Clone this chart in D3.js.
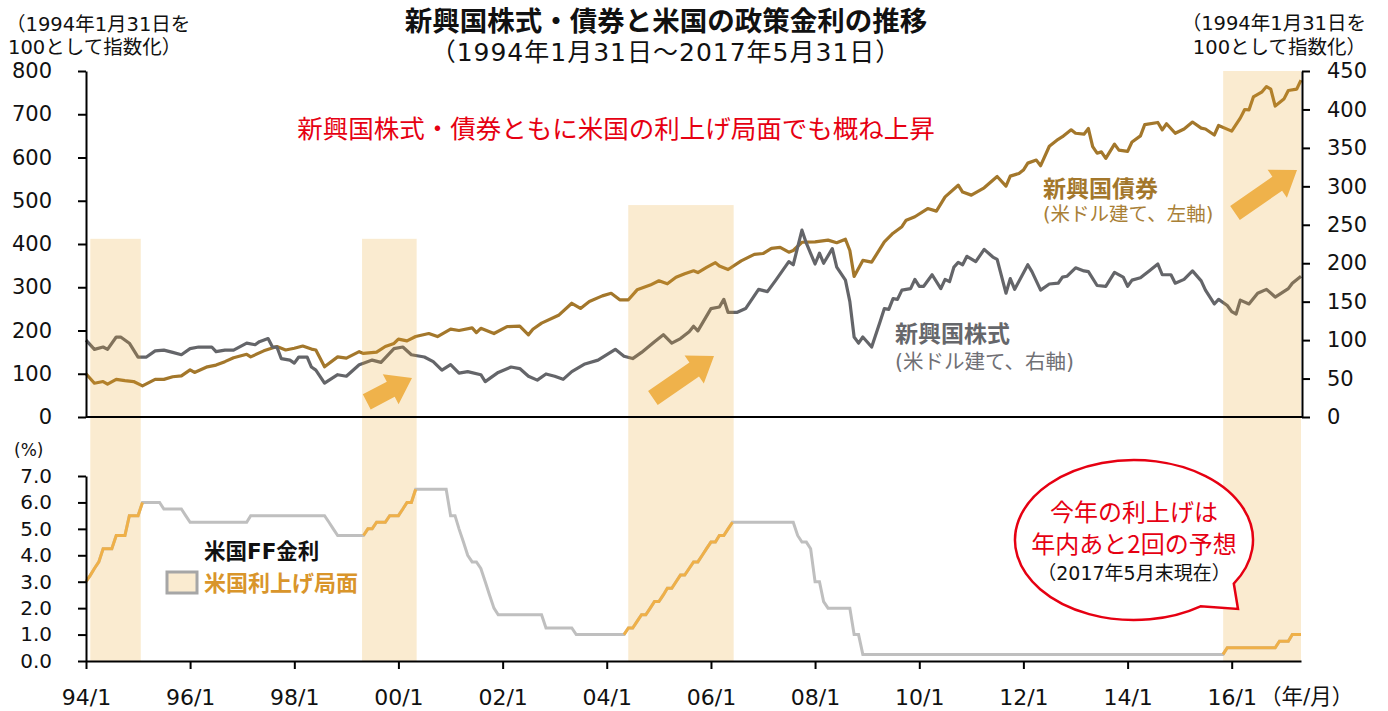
<!DOCTYPE html>
<html>
<head>
<meta charset="utf-8">
<script src="https://cdn.jsdelivr.net/npm/d3@7"></script>
<style>
  body { margin: 0; background: #fff; }
  svg { display: block; }
</style>
</head>
<body>
<svg id="chart" width="1388" height="711"></svg>
<script>
"use strict"

// 新興国債券 (米ドル建て、左軸), 1994/1/31 = 100
var bondSeries = [
  ["1994-01",100],["1994-03",78],["1994-05",82],["1994-06",76],["1994-08",87],["1994-10",84],["1994-12",82],
  ["1995-02",72],["1995-05",87],["1995-07",87],["1995-09",93],["1995-11",95],["1996-01",109],["1996-02",103],
  ["1996-05",116],["1996-07",120],["1996-09",128],["1996-11",137],["1997-02",145],["1997-03",139],["1997-06",153],
  ["1997-09",163],["1997-11",155],["1998-01",159],["1998-03",164],["1998-05",157],["1998-06",155],["1998-08",116],
  ["1998-11",139],["1999-01",136],["1999-04",151],["1999-05",147],["1999-08",150],["1999-10",163],["1999-12",170],
  ["2000-01",180],["2000-03",176],["2000-05",186],["2000-08",193],["2000-10",186],["2001-01",203],["2001-03",200],
  ["2001-06",206],["2001-07",195],["2001-08",205],["2001-11",193],["2002-02",209],["2002-05",210],["2002-07",190],
  ["2002-08",203],["2002-10",217],["2003-02",236],["2003-05",263],["2003-07",251],["2003-09",267],["2003-12",280],
  ["2004-02",286],["2004-04",271],["2004-06",271],["2004-08",294],["2004-11",305],["2005-01",315],["2005-03",308],
  ["2005-05",323],["2005-07",331],["2005-09",338],["2005-10",334],["2005-12",346],["2006-02",357],["2006-03",349],
  ["2006-05",341],["2006-08",361],["2006-11",376],["2007-01",378],["2007-03",390],["2007-05",392],["2007-07",381],
  ["2007-08",385],["2007-10",404],["2008-01",405],["2008-04",409],["2008-06",403],["2008-08",411],["2008-09",385],
  ["2008-10",325],["2008-12",362],["2009-02",358],["2009-05",405],["2009-07",425],["2009-09",440],["2009-10",455],
  ["2009-11",459],["2009-12",463],["2010-03",482],["2010-05",476],["2010-07",509],["2010-10",536],["2010-11",520],
  ["2011-01",513],["2011-04",530],["2011-07",556],["2011-09",534],["2011-10",557],["2011-12",563],["2012-01",571],
  ["2012-02",587],["2012-04",594],["2012-05",581],["2012-07",626],["2012-09",642],["2012-10",648],["2012-12",664],
  ["2013-01",656],["2013-03",654],["2013-04",667],["2013-05",625],["2013-06",610],["2013-07",613],["2013-08",598],
  ["2013-10",631],["2013-11",617],["2014-01",614],["2014-02",636],["2014-04",650],["2014-05",676],["2014-08",681],
  ["2014-09",664],["2014-10",678],["2014-12",656],["2015-02",666],["2015-04",682],["2015-06",668],["2015-07",666],
  ["2015-09",652],["2015-10",674],["2016-01",661],["2016-03",691],["2016-04",711],["2016-05",710],["2016-06",740],
  ["2016-08",752],["2016-09",764],["2016-10",758],["2016-11",719],["2017-01",735],["2017-02",755],["2017-04",758],
  ["2017-05",779]
]

// 新興国株式 (米ドル建て、右軸), 1994/1/31 = 100
var equitySeries = [
  ["1994-01",100],["1994-03",88],["1994-05",91],["1994-06",88],["1994-08",104],["1994-09",104],["1994-11",96],
  ["1995-01",78],["1995-03",78],["1995-05",86],["1995-07",87],["1995-09",84],["1995-11",81],["1996-01",89],
  ["1996-03",91],["1996-06",91],["1996-07",85],["1996-09",87],["1996-11",87],["1997-02",96],["1997-04",94],
  ["1997-05",98],["1997-07",102],["1997-08",91],["1997-09",91],["1997-10",76],["1997-12",74],["1998-01",70],
  ["1998-02",78],["1998-04",78],["1998-05",65],["1998-06",61],["1998-08",44],["1998-11",55],["1999-01",53],
  ["1999-04",68],["1999-05",70],["1999-07",74],["1999-09",71],["1999-12",89],["2000-02",91],["2000-04",81],
  ["2000-07",78],["2000-09",72],["2000-11",61],["2001-01",68],["2001-03",57],["2001-05",59],["2001-08",55],
  ["2001-09",46],["2001-12",58],["2002-03",65],["2002-05",63],["2002-07",53],["2002-09",48],["2002-11",56],
  ["2003-01",53],["2003-03",49],["2003-05",59],["2003-08",69],["2003-11",74],["2004-03",88],["2004-05",79],
  ["2004-07",76],["2004-09",84],["2004-12",98],["2005-02",107],["2005-04",96],["2005-06",102],["2005-08",111],
  ["2005-09",118],["2005-10",112],["2006-01",141],["2006-03",143],["2006-04",153],["2006-05",136],["2006-07",136],
  ["2006-09",141],["2006-12",166],["2007-02",163],["2007-04",178],["2007-07",202],["2007-08",198],["2007-10",243],
  ["2007-11",226],["2008-01",199],["2008-02",213],["2008-03",200],["2008-05",219],["2008-06",195],["2008-08",178],
  ["2008-09",150],["2008-10",104],["2008-11",96],["2008-12",104],["2009-02",91],["2009-04",124],["2009-05",141],
  ["2009-06",140],["2009-07",154],["2009-08",153],["2009-09",165],["2009-11",167],["2009-12",179],["2010-01",170],
  ["2010-02",170],["2010-04",185],["2010-06",167],["2010-07",179],["2010-08",176],["2010-09",195],["2010-10",201],
  ["2010-11",198],["2010-12",209],["2011-02",202],["2011-04",218],["2011-06",208],["2011-07",205],["2011-09",161],
  ["2011-10",180],["2011-11",166],["2012-02",198],["2012-03",189],["2012-05",165],["2012-07",173],["2012-09",174],
  ["2012-10",182],["2012-11",183],["2013-01",194],["2013-03",190],["2013-04",189],["2013-06",171],["2013-08",170],
  ["2013-10",188],["2013-12",182],["2014-01",170],["2014-02",178],["2014-04",181],["2014-06",190],["2014-08",199],
  ["2014-09",185],["2014-11",185],["2014-12",174],["2015-02",179],["2015-04",190],["2015-06",177],["2015-07",165],
  ["2015-09",147],["2015-10",153],["2015-12",145],["2016-01",137],["2016-02",134],["2016-03",152],["2016-05",147],
  ["2016-07",161],["2016-09",166],["2016-11",156],["2017-02",167],["2017-03",174],["2017-05",183]
]

// 米国FF金利 (%), monthly from ffStart
var ffStart = "1994-01"
var ffRate = [
  3.00,3.25,3.50,3.75,4.25,4.25,4.25,4.75,4.75,4.75,5.50,5.50,  // 1994
  5.50,6.00,6.00,6.00,6.00,6.00,5.75,5.75,5.75,5.75,5.75,5.50,  // 1995
  5.25,5.25,5.25,5.25,5.25,5.25,5.25,5.25,5.25,5.25,5.25,5.25,  // 1996
  5.25,5.25,5.50,5.50,5.50,5.50,5.50,5.50,5.50,5.50,5.50,5.50,  // 1997
  5.50,5.50,5.50,5.50,5.50,5.50,5.50,5.50,5.25,5.00,4.75,4.75,  // 1998
  4.75,4.75,4.75,4.75,4.75,5.00,5.00,5.25,5.25,5.25,5.50,5.50,  // 1999
  5.50,5.75,6.00,6.00,6.50,6.50,6.50,6.50,6.50,6.50,6.50,6.50,  // 2000
  5.50,5.50,5.00,4.50,4.00,3.75,3.75,3.50,3.00,2.50,2.00,1.75,  // 2001
  1.75,1.75,1.75,1.75,1.75,1.75,1.75,1.75,1.75,1.75,1.25,1.25,  // 2002
  1.25,1.25,1.25,1.25,1.25,1.00,1.00,1.00,1.00,1.00,1.00,1.00,  // 2003
  1.00,1.00,1.00,1.00,1.00,1.25,1.25,1.50,1.75,1.75,2.00,2.25,  // 2004
  2.25,2.50,2.75,2.75,3.00,3.25,3.25,3.50,3.75,3.75,4.00,4.25,  // 2005
  4.50,4.50,4.75,4.75,5.00,5.25,5.25,5.25,5.25,5.25,5.25,5.25,  // 2006
  5.25,5.25,5.25,5.25,5.25,5.25,5.25,5.25,4.75,4.50,4.50,4.25,  // 2007
  3.00,3.00,2.25,2.00,2.00,2.00,2.00,2.00,2.00,1.00,1.00,0.25,  // 2008
  0.25,0.25,0.25,0.25,0.25,0.25,0.25,0.25,0.25,0.25,0.25,0.25,  // 2009
  0.25,0.25,0.25,0.25,0.25,0.25,0.25,0.25,0.25,0.25,0.25,0.25,  // 2010
  0.25,0.25,0.25,0.25,0.25,0.25,0.25,0.25,0.25,0.25,0.25,0.25,  // 2011
  0.25,0.25,0.25,0.25,0.25,0.25,0.25,0.25,0.25,0.25,0.25,0.25,  // 2012
  0.25,0.25,0.25,0.25,0.25,0.25,0.25,0.25,0.25,0.25,0.25,0.25,  // 2013
  0.25,0.25,0.25,0.25,0.25,0.25,0.25,0.25,0.25,0.25,0.25,0.25,  // 2014
  0.25,0.25,0.25,0.25,0.25,0.25,0.25,0.25,0.25,0.25,0.25,0.50,  // 2015
  0.50,0.50,0.50,0.50,0.50,0.50,0.50,0.50,0.50,0.50,0.50,0.75,  // 2016
  0.75,0.75,1.00,1.00,1.00                                      // 2017
]

// 米国利上げ局面: shaded band [from, to, top on left axis]
var hikeBands = [
  ["1994-01-31", "1995-01-20", 412],
  ["1999-04-21", "2000-05-08", 412],
  ["2004-05-31", "2006-06-09", 490],
  ["2015-11-02", "2017-05-01", 800]
]
// part of the FF line drawn in orange
var hikeRuns = [["1994-01","1995-02"],["1999-05","2000-05"],["2004-05","2006-06"],["2015-11","2017-05"]]

// block arrows, [tail, tip] in (date, left axis value)
var trendArrows = [
  [["1999-05-24", 35], ["2000-04-05", 90]],
  [["2004-11-20", 44], ["2006-01-22", 141]],
  [["2016-01-24", 472], ["2017-04-03", 571]]
]

var leftTicks = [0, 100, 200, 300, 400, 500, 600, 700, 800]
var rightTicks = [0, 50, 100, 150, 200, 250, 300, 350, 400, 450]
var rateTicks = [0, 1, 2, 3, 4, 5, 6, 7]
var yearTicks = ["1994-01","1996-01","1998-01","2000-01","2002-01","2004-01","2006-01","2008-01","2010-01","2012-01","2014-01","2016-01"]

var FONT = "'DejaVu Sans', 'Noto Sans CJK JP', sans-serif"
var JP = "'Noto Sans CJK JP', sans-serif"
var RED = "#E60012"
var BOND = "#A3772B"
var EQUITY = "#646569"
var ORANGE = "#EFB048"

var parseMonth = d3.utcParse("%Y-%m")
var parseDay = d3.utcParse("%Y-%m-%d")
function parseDate(s) {
  return s.length == 7 ? parseMonth(s) : parseDay(s)
}

var svg = d3.select("#chart").attr("font-family", FONT)

var x = d3.scaleUtc()
  .domain([parseMonth("1994-01"), parseMonth("2017-05")])
  .range([86, 1301])
var yL = d3.scaleLinear().domain([0, 800]).range([417, 71])
var yR = d3.scaleLinear().domain([0, 450]).range([417, 71])
var yF = d3.scaleLinear().domain([0, 7]).range([661, 476])

function styleAxis(g, size) {
  g.attr("font-family", FONT).attr("font-size", size)
  g.select(".domain").attr("stroke", "#000").attr("stroke-width", 2)
  g.selectAll(".tick line").attr("stroke", "#000").attr("stroke-width", 2)
  g.selectAll(".tick text").attr("fill", "#111")
}

// ---- top panel: index lines
var bond = bondSeries.map(function(d){ return {date: parseDate(d[0]), value: d[1]} })
var equity = equitySeries.map(function(d){ return {date: parseDate(d[0]), value: d[1]} })

svg.append("path")
  .datum(bond)
  .attr("fill", "none")
  .attr("stroke", BOND)
  .attr("stroke-width", 3.2)
  .attr("stroke-linejoin", "round")
  .attr("d", d3.line().x(function(d){ return x(d.date) }).y(function(d){ return yL(d.value) }))

svg.append("path")
  .datum(equity)
  .attr("fill", "none")
  .attr("stroke", EQUITY)
  .attr("stroke-width", 3.2)
  .attr("stroke-linejoin", "round")
  .attr("d", d3.line().x(function(d){ return x(d.date) }).y(function(d){ return yR(d.value) }))

// rate-hike bands, laid over the lines like the original
svg.append("g").selectAll("rect")
  .data(hikeBands)
  .enter().append("rect")
  .attr("x", function(d){ return x(parseDate(d[0])) })
  .attr("width", function(d){ return x(parseDate(d[1])) - x(parseDate(d[0])) })
  .attr("y", function(d){ return yL(d[2]) })
  .attr("height", function(d){ return yF(0) - yL(d[2]) })
  .attr("fill", "#E8A429")
  .attr("fill-opacity", 0.22)

// ---- bottom panel: FF rate
var ffStartDate = parseMonth(ffStart)
var ff = ffRate.map(function(v, i){ return {date: d3.utcMonth.offset(ffStartDate, i), value: v} })
var ffLine = d3.line().x(function(d){ return x(d.date) }).y(function(d){ return yF(d.value) })

svg.append("path")
  .datum(ff)
  .attr("fill", "none")
  .attr("stroke", "#BFBFBF")
  .attr("stroke-width", 3)
  .attr("d", ffLine)

svg.append("g").selectAll("path")
  .data(hikeRuns)
  .enter().append("path")
  .attr("fill", "none")
  .attr("stroke", ORANGE)
  .attr("stroke-width", 3)
  .attr("d", function(run){
    var a = parseDate(run[0]), b = parseDate(run[1])
    return ffLine(ff.filter(function(d){ return d.date >= a && d.date <= b }))
  })

// block arrows
function arrowPath(tail, tip) {
  var x0 = x(parseDate(tail[0])), y0 = yL(tail[1])
  var x1 = x(parseDate(tip[0])), y1 = yL(tip[1])
  var len = Math.hypot(x1 - x0, y1 - y0)
  var ux = (x1 - x0) / len, uy = (y1 - y0) / len
  var nx = -uy, ny = ux
  var shaft = 8.5, head = 17, headLen = 24
  var bx = x1 - ux * headLen, by = y1 - uy * headLen
  var pts = [
    [x0 + nx * shaft, y0 + ny * shaft],
    [bx + nx * shaft, by + ny * shaft],
    [bx + nx * head, by + ny * head],
    [x1, y1],
    [bx - nx * head, by - ny * head],
    [bx - nx * shaft, by - ny * shaft],
    [x0 - nx * shaft, y0 - ny * shaft]
  ]
  return "M" + pts.map(function(p){ return p[0].toFixed(1) + "," + p[1].toFixed(1) }).join("L") + "Z"
}

svg.append("g").selectAll("path")
  .data(trendArrows)
  .enter().append("path")
  .attr("d", function(d){ return arrowPath(d[0], d[1]) })
  .attr("fill", "#EFB24B")

// ---- axes
var gL = svg.append("g")
  .attr("transform", "translate(86,0)")
  .call(d3.axisLeft(yL).tickValues(leftTicks).tickSize(8).tickSizeOuter(0).tickPadding(26))
styleAxis(gL, 21)

var gR = svg.append("g")
  .attr("transform", "translate(1302,0)")
  .call(d3.axisRight(yR).tickValues(rightTicks).tickSize(8).tickSizeOuter(0).tickPadding(17))
styleAxis(gR, 21)

svg.append("line")
  .attr("x1", 86).attr("x2", 1302)
  .attr("y1", yL(0)).attr("y2", yL(0))
  .attr("stroke", "#000").attr("stroke-width", 2)

var gF = svg.append("g")
  .attr("transform", "translate(86,0)")
  .call(d3.axisLeft(yF).tickValues(rateTicks).tickSize(8).tickSizeOuter(0).tickPadding(26)
    .tickFormat(d3.format(".1f")))
styleAxis(gF, 20)

var gX = svg.append("g")
  .attr("transform", "translate(0," + yF(0) + ")")
  .call(d3.axisBottom(x).tickValues(yearTicks.map(parseDate)).tickSize(8).tickSizeOuter(0).tickPadding(20)
    .tickFormat(d3.utcFormat("%y/%-m")))
styleAxis(gX, 22)

// ---- texts
function label(txt, px, py, opts) {
  opts = opts || {}
  return svg.append("text")
    .attr("x", px).attr("y", py)
    .attr("text-anchor", opts.anchor || "start")
    .attr("font-size", opts.size || 18)
    .attr("font-weight", opts.bold ? 700 : 400)
    .attr("font-family", opts.family || FONT)
    .attr("letter-spacing", opts.spacing || 0)
    .attr("fill", opts.color || "#111")
    .text(txt)
}

label("新興国株式・債券と米国の政策金利の推移", 666, 31, {anchor: "middle", size: 27.5, bold: true, family: JP})
label("（1994年1月31日～2017年5月31日）", 666, 61, {anchor: "middle", size: 25, spacing: 1})

label("（1994年1月31日を", 6, 31, {size: 19.5})
label("100として指数化）", 8, 54, {size: 19.5})
label("（1994年1月31日を", 1366, 30, {anchor: "end", size: 19.5})
label("100として指数化）", 1366, 54, {anchor: "end", size: 19.5})

label("新興国株式・債券ともに米国の利上げ局面でも概ね上昇", 616, 138, {anchor: "middle", size: 25.5, color: RED, family: JP})

label("新興国債券", 1043, 197, {size: 23, bold: true, color: BOND, family: JP})
label("(米ドル建て、左軸)", 1043, 221, {size: 19.5, color: "#A98037"})
label("新興国株式", 895, 342, {size: 23, bold: true, color: "#66676B", family: JP})
label("(米ドル建て、右軸)", 895, 369, {size: 20.5, color: "#707075"})

label("(%)", 14, 456, {size: 17})
label("（年/月）", 1260, 704, {size: 21.5})

// legend
label("米国FF金利", 204, 559, {size: 21.5, bold: true})
svg.append("rect")
  .attr("x", 167).attr("y", 572).attr("width", 30).attr("height", 21)
  .attr("fill", "#FAEBD0").attr("stroke", "#A6A6A6").attr("stroke-width", 3)
label("米国利上げ局面", 204, 591, {size: 22, bold: true, color: "#D9952B", family: JP})

// speech bubble
var cx = 1134, cy = 540, rx = 119, ry = 80
function onEllipse(deg) {
  var t = deg * Math.PI / 180
  return [cx + rx * Math.cos(t), cy + ry * Math.sin(t)]
}
var pA = onEllipse(33), pB = onEllipse(56), tip = [1238, 609]
svg.append("path")
  .attr("d", "M" + pB[0] + "," + pB[1] +
    "A" + rx + "," + ry + " 0 1 1 " + pA[0] + "," + pA[1] +
    "L" + tip[0] + "," + tip[1] + "Z")
  .attr("fill", "#fff")
  .attr("stroke", RED)
  .attr("stroke-width", 2.5)
  .attr("stroke-linejoin", "miter")

label("今年の利上げは", cx, 521, {anchor: "middle", size: 24, color: RED, family: JP})
label("年内あと2回の予想", cx, 553, {anchor: "middle", size: 24, color: RED, family: JP})
label("（2017年5月末現在）", cx, 580, {anchor: "middle", size: 19})
</script>
</body>
</html>
